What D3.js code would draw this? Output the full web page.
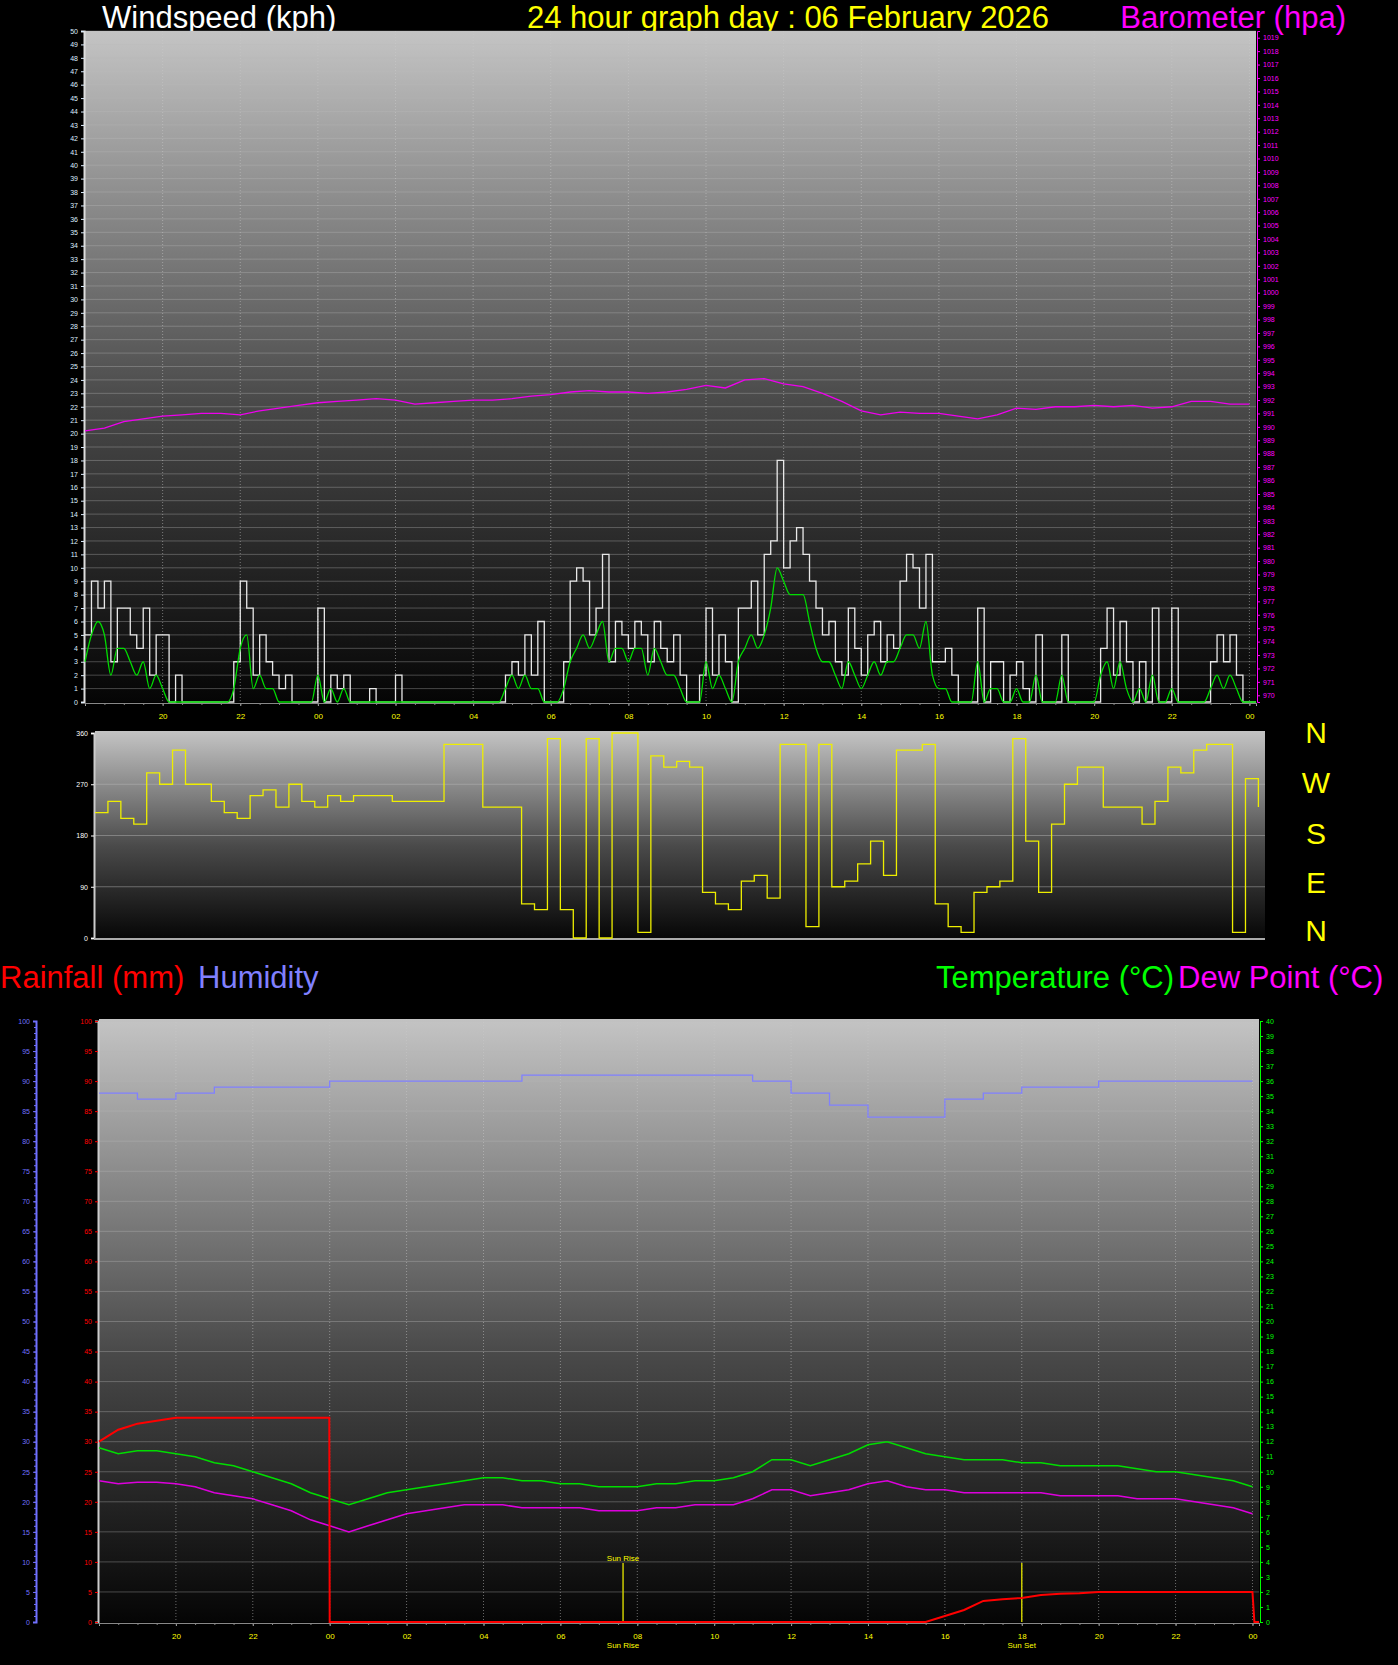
<!DOCTYPE html>
<html><head><meta charset="utf-8">
<script src="https://cdn.jsdelivr.net/npm/d3@7"></script>
<style>body{margin:0;background:#000}svg{display:block}text{font-family:"Liberation Sans",Arial,sans-serif}</style>
</head><body>
<script>
// hours counted from 00:00 of the previous day, 18 = 18:00, 48 = midnight at end
var hourTicks = [20,22,24,26,28,30,32,34,36,38,40,42,44,46,48];
var hourLabels = ["20","22","00","02","04","06","08","10","12","14","16","18","20","22","00"];

// wind every 10 minutes from 18:00
var gust = [5,9,7,9,3,7, 7,5,4,7,2,5, 5,0,2,0,0,0, 0,0,0,0,0,3, 9,7,2,5,3,2, 1,2,0,0,0,0,
  7,0,2,1,2,0, 0,0,1,0,0,0, 2,0,0,0,0,0, 0,0,0,0,0,0, 0,0,0,0,0,2, 3,2,5,2,6,0,
  0,0,3,9,10,9, 5,7,11,3,6,5, 4,6,5,3,6,4, 3,5,2,0,0,2, 7,2,5,3,0,7, 7,9,5,11,12,18,
  10,12,13,11,9,7, 5,6,3,2,7,4, 2,5,6,3,5,4, 9,11,10,7,11,3, 3,4,2,0,0,0, 7,0,3,3,0,2,
  3,1,0,5,0,0, 0,5,0,0,0,0, 0,4,7,2,6,3, 0,3,0,7,0,0, 7,0,0,0,0,0, 3,5,3,5,2,0, 0,0];
var avgWind = [3,5,6,5,2,4, 4,3,2,3,1,2, 1,0,0,0,0,0, 0,0,0,0,0,1, 4,5,1,2,1,1, 0,0,0,0,0,0,
  2,0,1,0,1,0, 0,0,0,0,0,0, 0,0,0,0,0,0, 0,0,0,0,0,0, 0,0,0,0,0,1, 2,1,2,1,1,0,
  0,0,1,3,4,5, 4,5,6,3,4,4, 3,4,4,2,4,3, 2,2,1,0,0,0, 3,1,2,1,0,3, 4,5,4,5,7,10,
  9,8,8,8,6,4, 3,3,2,1,3,2, 1,2,3,2,3,3, 4,5,5,4,6,2, 1,1,0,0,0,0, 3,0,1,1,0,0,
  1,0,0,2,0,0, 0,2,0,0,0,0, 0,2,3,1,3,1, 0,1,0,2,0,0, 1,0,0,0,0,0, 1,2,1,2,1,0, 0,0];
// barometer every 30 minutes
var baro = [989.7,989.9,990.4,990.6,990.8,990.9,991.0,991.0,990.9,991.2,991.4,991.6,991.8,991.9,992.0,992.1,
  992.0,991.7,991.8,991.9,992.0,992.0,992.1,992.3,992.4,992.6,992.7,992.6,992.6,992.5,992.6,992.8,
  993.1,992.9,993.5,993.6,993.2,993.0,992.5,991.9,991.2,990.9,991.1,991.0,991.0,990.8,990.6,990.9,
  991.4,991.3,991.5,991.5,991.6,991.5,991.6,991.4,991.5,991.9,991.9,991.7,991.7];
// wind direction every 20 minutes
var windDir = [220,240,210, 200,290,270, 330,270,270, 240,220,210, 250,260,230, 270,240,230,
  250,240,250, 250,250,240, 240,240,240, 340,340,340, 230,230,230, 60,50,350, 50,0,350,
  0,360,360, 10,320,300, 310,300,80, 60,50,100, 110,70,340, 340,20,340, 90,100,130,
  170,110,330, 330,340,60, 20,10,80, 90,100,350, 170,80,200, 270,300,300, 230,230,230,
  200,240,300, 290,330,340, 340,10,280, 230];
// humidity hourly
var humidity = [88,87,88,89,89,89,90,90,90,90,90,91,91,91,91,91,91,90,88,86,84,84,87,88,89,89,90,90,90,90,90];
// temperature / dew point every 30 minutes
var temperature = [11.6,11.2,11.4,11.4,11.2,11.0,10.6,10.4,10.0,9.6,9.2,8.6,8.2,7.8,8.2,8.6,8.8,9.0,9.2,9.4,
  9.6,9.6,9.4,9.4,9.2,9.2,9.0,9.0,9.0,9.2,9.2,9.4,9.4,9.6,10.0,10.8,10.8,10.4,10.8,11.2,
  11.8,12.0,11.6,11.2,11.0,10.8,10.8,10.8,10.6,10.6,10.4,10.4,10.4,10.4,10.2,10.0,10.0,9.8,9.6,9.4,9.0];
var dewPoint = [9.4,9.2,9.3,9.3,9.2,9.0,8.6,8.4,8.2,7.8,7.4,6.8,6.4,6.0,6.4,6.8,7.2,7.4,7.6,7.8,
  7.8,7.8,7.6,7.6,7.6,7.6,7.4,7.4,7.4,7.6,7.6,7.8,7.8,7.8,8.2,8.8,8.8,8.4,8.6,8.8,
  9.2,9.4,9.0,8.8,8.8,8.6,8.6,8.6,8.6,8.6,8.4,8.4,8.4,8.4,8.2,8.2,8.2,8.0,7.8,7.6,7.2];
var rainHours = [18,18.25,18.5,18.75,19,19.5,20,23.99,24.0,39.5,40,40.5,41,41.5,42,42.5,43,43.5,44,48,48.05,48.17];
var rainMm = [30,31,32,32.5,33,33.5,34,34,0,0,1,2,3.5,3.8,4,4.5,4.7,4.8,5,5,0,0];
var sunRise = 31.63, sunSet = 42.0;

var W = 1398, H = 1665;
var svg = d3.select("body").append("svg").attr("width", W).attr("height", H);
var defs = svg.append("defs");
var grad = defs.append("linearGradient").attr("id", "bg").attr("x1", 0).attr("y1", 0).attr("x2", 0).attr("y2", 1);
grad.append("stop").attr("offset", 0).attr("stop-color", "#c4c4c4");
grad.append("stop").attr("offset", 0.55).attr("stop-color", "#4a4a4a");
grad.append("stop").attr("offset", 1).attr("stop-color", "#050505");

function title(x, y, t, c, anchor) {
  svg.append("text").attr("x", x).attr("y", y).attr("fill", c).attr("font-size", 31)
    .attr("text-anchor", anchor || "start").text(t);
}
title(102, 28, "Windspeed (kph)", "#fff");
title(788, 28, "24 hour graph day : 06 February 2026", "#ffff00", "middle");
title(1346, 28, "Barometer (hpa)", "#ff00ff", "end");
title(0, 988, "Rainfall (mm)", "#ff0000");
title(198, 988, "Humidity", "#8080ff");
title(936, 988, "Temperature (°C)", "#00ff00");
title(1178, 988, "Dew Point (°C)", "#ff00ff");

function panel(x0, x1, y0, y1) {
  svg.append("rect").attr("x", x0).attr("y", y0).attr("width", x1 - x0).attr("height", y1 - y0).attr("fill", "url(#bg)");
}
function hgrid(y, vals, x0, x1, op) {
  svg.append("g").selectAll("line").data(vals).join("line")
    .attr("x1", x0).attr("x2", x1).attr("y1", y).attr("y2", y)
    .attr("stroke", "#bbb").attr("stroke-opacity", op).attr("stroke-width", 1);
}
function vgrid(x, y0, y1) {
  svg.append("g").selectAll("line").data(hourTicks).join("line")
    .attr("x1", x).attr("x2", x).attr("y1", y0).attr("y2", y1)
    .attr("stroke", "#ccc").attr("stroke-opacity", 0.5).attr("stroke-dasharray", "1,2");
}
function styleAxis(g, col, size) {
  g.selectAll("path,line").attr("stroke", col);
  g.selectAll("text").attr("fill", col).attr("font-size", size).attr("font-family", "Liberation Sans, Arial");
}
function timeAxis(x, y) {
  var g = svg.append("g").attr("transform", "translate(0," + y + ")")
    .call(d3.axisBottom(x).tickValues(hourTicks).tickFormat(function (d, i) { return hourLabels[i]; }).tickSize(3));
  g.selectAll("path,line").attr("stroke", "#aaa");
  g.selectAll("text").attr("fill", "#ffff00").attr("font-size", 8).attr("dy", "1.2em");
  svg.append("g").attr("transform", "translate(0," + y + ")")
    .call(d3.axisBottom(x).tickValues(d3.range(18.5, 48.2, 0.5)).tickFormat("").tickSize(2))
    .selectAll("path,line").attr("stroke", "#888");
}

// ---------- wind / barometer ----------
var t0 = 18, t1 = 48.17;
var xW = d3.scaleLinear().domain([t0, t1]).range([85, 1256]);
var yW = d3.scaleLinear().domain([0, 50]).range([702, 31]);
var yB = d3.scaleLinear().domain([969.5, 1019.5]).range([702, 31]);
panel(85, 1256, 31, 702);
hgrid(function (d) { return yW(d); }, d3.range(1, 51), 85, 1256, 0.35);
vgrid(function (d) { return xW(d); }, 31, 702);
var ga = svg.append("g").attr("transform", "translate(84,0)")
  .call(d3.axisLeft(yW).ticks(50).tickFormat(d3.format("d")).tickSize(3));
styleAxis(ga, "#ddeeff", 7);
ga.select("path").attr("stroke", "#ddd").attr("stroke-width", 2);
var gb = svg.append("g").attr("transform", "translate(1257,0)")
  .call(d3.axisRight(yB).tickValues(d3.range(970, 1020)).tickFormat(d3.format("d")).tickSize(3));
styleAxis(gb, "#ff00ff", 7);
timeAxis(xW, 703);

var tw = function (i) { return t0 + i / 6; };
svg.append("path").datum(gust)
  .attr("d", d3.line().x(function (d, i) { return xW(tw(i)); }).y(function (d) { return yW(d); }).curve(d3.curveStepAfter))
  .attr("fill", "none").attr("stroke", "#e8e8e8").attr("stroke-width", 1.3);
svg.append("path").datum(avgWind)
  .attr("d", d3.line().x(function (d, i) { return xW(tw(i)); }).y(function (d) { return yW(d); }).curve(d3.curveMonotoneX))
  .attr("fill", "none").attr("stroke", "#00dd00").attr("stroke-width", 1.3);
svg.append("path").datum(baro)
  .attr("d", d3.line().x(function (d, i) { return xW(t0 + i / 2); }).y(function (d) { return yB(d); }))
  .attr("fill", "none").attr("stroke", "#ee00ee").attr("stroke-width", 1.3);

// ---------- wind direction ----------
var xD = d3.scaleLinear().domain([t0, t1]).range([95, 1265]);
var yD = d3.scaleLinear().domain([0, 360]).range([938, 733]);
panel(95, 1265, 731, 940);
hgrid(function (d) { return yD(d); }, [90, 180, 270], 95, 1265, 0.45);
var gd = svg.append("g").attr("transform", "translate(94,0)")
  .call(d3.axisLeft(yD).tickValues([0, 90, 180, 270, 360]).tickSize(3));
styleAxis(gd, "#fff", 7);
gd.select("path").attr("stroke", "#ccc").attr("stroke-width", 2);
svg.append("line").attr("x1", 94).attr("x2", 1265).attr("y1", 939).attr("y2", 939).attr("stroke", "#aaa").attr("stroke-width", 2);
svg.append("path").datum(windDir)
  .attr("d", d3.line().x(function (d, i) { return xD(t0 + i / 3); }).y(function (d) { return yD(d); }).curve(d3.curveStepAfter))
  .attr("fill", "none").attr("stroke", "#eeee00").attr("stroke-width", 1.3);
var compass = ["N", "W", "S", "E", "N"];
svg.append("g").selectAll("text").data(compass).join("text")
  .attr("x", 1316).attr("y", function (d, i) { return [743, 793, 844, 893, 941][i]; })
  .attr("text-anchor", "middle").attr("fill", "#ffff00").attr("font-size", 30).text(function (d) { return d; });

// ---------- rain / humidity / temperature ----------
var xT = d3.scaleLinear().domain([t0, t1]).range([99, 1259]);
var yR = d3.scaleLinear().domain([0, 100]).range([1622, 1021]);
var yH = d3.scaleLinear().domain([0, 100]).range([1622, 1021]);
var yC = d3.scaleLinear().domain([0, 40]).range([1622, 1021]);
panel(99, 1259, 1019, 1622);
hgrid(function (d) { return yR(d); }, d3.range(5, 101, 5), 99, 1259, 0.35);
vgrid(function (d) { return xT(d); }, 1019, 1622);
var gr = svg.append("g").attr("transform", "translate(98,0)")
  .call(d3.axisLeft(yR).tickValues(d3.range(0, 101, 5)).tickSize(3));
styleAxis(gr, "#ff0000", 7);
gr.select("path").attr("stroke", "#ccc").attr("stroke-width", 2);
var gh = svg.append("g").attr("transform", "translate(36,0)")
  .call(d3.axisLeft(yH).tickValues(d3.range(0, 101, 5)).tickSize(3));
styleAxis(gh, "#7070ff", 7);
gh.select("path").attr("stroke-width", 2);
svg.append("g").attr("transform", "translate(36,0)")
  .call(d3.axisLeft(yH).tickValues(d3.range(0, 101, 1)).tickFormat("").tickSize(2))
  .selectAll("path,line").attr("stroke", "#7070ff");
var gc = svg.append("g").attr("transform", "translate(1260,0)")
  .call(d3.axisRight(yC).tickValues(d3.range(0, 41)).tickSize(3));
styleAxis(gc, "#00ff00", 7);
timeAxis(xT, 1623);

// sun rise / set markers
[[sunRise, "Sun Rise"], [sunSet, "Sun Set"]].forEach(function (s) {
  svg.append("line").attr("x1", xT(s[0])).attr("x2", xT(s[0])).attr("y1", 1563).attr("y2", 1622)
    .attr("stroke", "#cccc00").attr("stroke-width", 1.5);
  svg.append("text").attr("x", xT(s[0])).attr("y", 1648).attr("text-anchor", "middle")
    .attr("fill", "#ffff00").attr("font-size", 8).text(s[1]);
});
svg.append("text").attr("x", xT(sunRise)).attr("y", 1561).attr("text-anchor", "middle")
  .attr("fill", "#ffff00").attr("font-size", 8).text("Sun Rise");

svg.append("path").datum(humidity)
  .attr("d", d3.line().x(function (d, i) { return xT(t0 + i); }).y(function (d) { return yH(d); }).curve(d3.curveStepAfter))
  .attr("fill", "none").attr("stroke", "#8080ff").attr("stroke-width", 1.3);
svg.append("path").datum(temperature)
  .attr("d", d3.line().x(function (d, i) { return xT(t0 + i / 2); }).y(function (d) { return yC(d); }))
  .attr("fill", "none").attr("stroke", "#00dd00").attr("stroke-width", 1.5);
svg.append("path").datum(dewPoint)
  .attr("d", d3.line().x(function (d, i) { return xT(t0 + i / 2); }).y(function (d) { return yC(d); }))
  .attr("fill", "none").attr("stroke", "#dd00dd").attr("stroke-width", 1.5);
svg.append("path").datum(rainHours)
  .attr("d", d3.line().x(function (d) { return xT(d); }).y(function (d, i) { return yR(rainMm[i]); }))
  .attr("fill", "none").attr("stroke", "#ff0000").attr("stroke-width", 2);
</script>
</body></html>
